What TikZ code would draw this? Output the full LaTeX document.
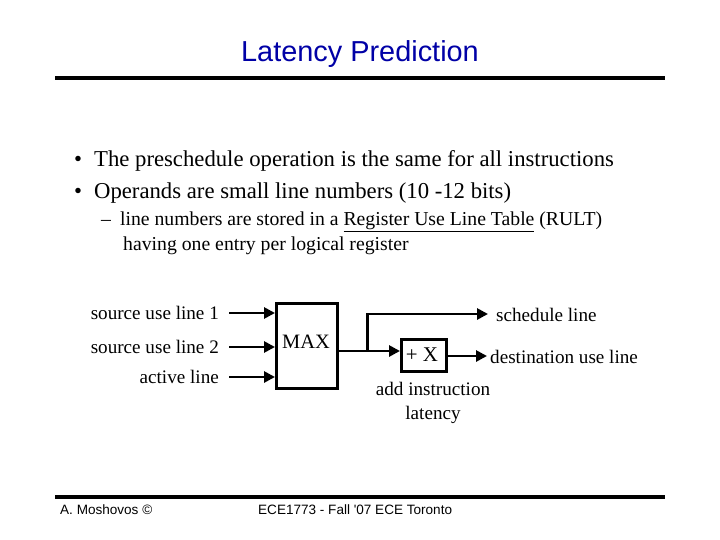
\documentclass[tikz,border=0pt]{standalone}
\usepackage{fontspec}
\setmainfont{Liberation Serif}
\newfontfamily\arial{Liberation Sans}
\usetikzlibrary{arrows.meta}
\begin{document}
\begin{tikzpicture}[x=1bp,y=-1bp,
  lbl/.style={font=\fontsize{19.2}{21}\selectfont, inner sep=0pt},
  txt/.style={font=\fontsize{22.8}{26}\selectfont, anchor=west, inner sep=0pt},
  sub/.style={font=\fontsize{19.8}{22}\selectfont, anchor=west, inner sep=0pt},
  blk/.style={draw, line width=3pt, inner sep=0pt},
  arr/.style={line width=3pt, -{Triangle[length=11bp,width=11bp]}},
  rule/.style={line width=3.2pt}]
\useasboundingbox (0,0) rectangle (720,540);
\node[font=\arial\fontsize{29}{32}\selectfont, text=blue!65!black] (title) at (360,54) {Latency Prediction};
\coordinate (r1a) at (55,78); \coordinate (r1b) at (665,78);
\draw[rule] (r1a) -- (r1b);
\coordinate (r2a) at (55,497); \coordinate (r2b) at (665,497);
\draw[rule] (r2a) -- (r2b);
\node[font=\arial\fontsize{13.6}{15}\selectfont, anchor=west, inner sep=0pt] (f1) at (60,510) {A. Moshovos ©};
\node[font=\arial\fontsize{13.6}{15}\selectfont, anchor=west, inner sep=0pt] (f2) at (258,510) {ECE1773 - Fall '07 ECE Toronto};

\node[txt] (b1) at (74,161) {•\hspace{12bp}The preschedule operation is the same for all instructions};
\node[txt] (b2) at (74,193) {•\hspace{12bp}Operands are small line numbers (10 -12 bits)};
\node[sub] (s1) at (101,222) {–\hspace{9bp}line numbers are stored in a \underline{Register Use Line Table} (RULT)};
\node[sub] (s2) at (123,246) {having one entry per logical register};

\node[blk, minimum width=61bp, minimum height=85bp, anchor=north west] (max) at (275,302) {};
\node[lbl, anchor=north west] (maxl) at (282,335) {\fontsize{20.5}{22}\selectfont MAX};
\node[blk, minimum width=45bp, minimum height=32bp, anchor=north west] (px) at (400,338) {};
\node[lbl] (pxl) at (422,355) {\fontsize{21}{23}\selectfont + X};

\node[lbl, anchor=east] (i1) at (219,313) {source use line 1};
\node[lbl, anchor=east] (i2) at (219,347) {source use line 2};
\node[lbl, anchor=east] (i3) at (219,377) {active line};
\coordinate (a1) at (229,313); \coordinate (a2) at (229,347); \coordinate (a3) at (229,377);
\draw[arr] (a1) -- (a1 -| max.west);
\draw[arr] (a2) -- (a2 -| max.west);
\draw[arr] (a3) -- (a3 -| max.west);

\coordinate (mo) at (336,351);
\coordinate (br) at (367,351);
\draw[line width=3pt] (mo) -- (br);
\draw[arr] (br) -- (br -| px.west);
\coordinate (up) at (367,314);
\coordinate (se) at (488,314);
\draw[arr] (br) -- (up) -- (se);
\node[lbl, anchor=west] (sl) at (496,315) {schedule line};
\coordinate (de) at (487,356);
\draw[arr] (px.east |- de) -- (de);
\node[lbl, anchor=west] (dl) at (490,357) {destination use line};
\node[lbl, align=center] (al) at (433,403) {add instruction\\[3bp]latency};
\end{tikzpicture}
\end{document}
